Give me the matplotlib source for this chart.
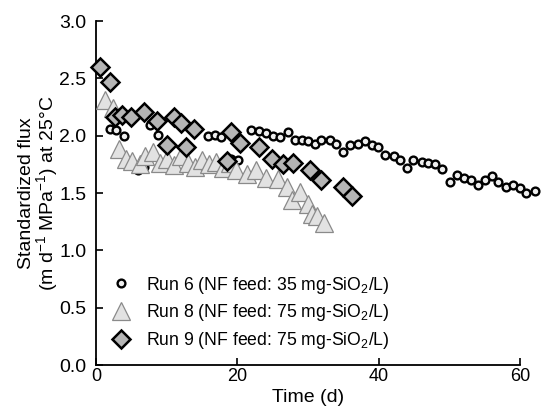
import matplotlib
matplotlib.use("Agg")
import matplotlib.pyplot as plt

plt.rcParams['font.family'] = ['Liberation Sans', 'DejaVu Sans']
plt.rcParams['mathtext.fontset'] = 'custom'
plt.rcParams['mathtext.rm'] = 'Liberation Sans'
plt.rcParams['mathtext.it'] = 'Liberation Sans:italic'
plt.rcParams['mathtext.bf'] = 'Liberation Sans:bold'

# Run 6 (circles)
t6 = [2.0, 2.9, 3.9, 6.0, 6.8, 7.7, 8.8, 10.0, 15.9, 16.8, 17.7, 19.1, 20.1,
      22.0, 23.0, 24.1, 25.1, 26.0, 27.2, 28.1, 29.1, 30.0, 31.0, 31.9, 33.1,
      34.0, 35.0, 35.9, 37.1, 38.0, 39.0, 39.9, 40.9, 42.1, 43.0, 44.0, 44.9,
      46.1, 47.0, 48.0, 48.9, 50.1, 51.1, 52.1, 53.0, 54.1, 55.0, 56.0, 56.9,
      58.0, 59.0, 60.0, 60.9, 62.1]
f6 = [2.06, 2.05, 2.00, 1.70, 1.73, 2.09, 2.01, 1.74, 2.00, 2.01, 1.99, 1.80, 1.79,
      2.05, 2.04, 2.02, 2.00, 1.99, 2.03, 1.96, 1.96, 1.95, 1.93, 1.96, 1.96,
      1.93, 1.86, 1.92, 1.93, 1.95, 1.92, 1.90, 1.83, 1.82, 1.79, 1.72, 1.79,
      1.77, 1.76, 1.75, 1.71, 1.60, 1.66, 1.63, 1.61, 1.57, 1.61, 1.65, 1.60,
      1.55, 1.57, 1.54, 1.50, 1.52]

# Run 8 (triangles)
t8 = [1.3, 2.4, 3.3, 4.2, 5.1, 6.2, 7.0, 8.1, 9.0, 10.0, 11.0, 12.0, 13.0, 14.0,
      15.0, 16.0, 17.0, 18.0, 19.0, 19.8, 21.3, 22.7, 24.1, 25.7, 27.0, 27.7,
      28.8, 30.0, 30.6, 31.3, 32.3]
f8 = [2.31, 2.24, 1.88, 1.80, 1.78, 1.75, 1.82, 1.86, 1.76, 1.80, 1.74, 1.82, 1.76,
      1.73, 1.79, 1.75, 1.77, 1.72, 1.76, 1.70, 1.67, 1.70, 1.63, 1.62, 1.55, 1.44,
      1.51, 1.40, 1.32, 1.30, 1.24]

# Run 9 (diamonds)
t9 = [0.6, 2.0, 2.7, 3.7, 4.9, 6.8, 8.7, 10.1, 11.0, 12.0, 12.8, 13.9, 18.6, 19.1,
      20.4, 23.0, 24.9, 26.5, 27.9, 30.3, 31.9, 35.0, 36.2]
f9 = [2.60, 2.47, 2.16, 2.18, 2.16, 2.21, 2.13, 1.92, 2.16, 2.11, 1.90, 2.06, 1.78,
      2.03, 1.94, 1.90, 1.80, 1.75, 1.76, 1.70, 1.61, 1.55, 1.47]

labels = ["Run 6 (NF feed: 35 mg-SiO$_2$/L)",
          "Run 8 (NF feed: 75 mg-SiO$_2$/L)",
          "Run 9 (NF feed: 75 mg-SiO$_2$/L)"]
xticks = [0, 20, 40, 60]
yticks = [0.0, 0.5, 1.0, 1.5, 2.0, 2.5, 3.0]

fig = plt.figure(figsize=(5.43, 4.12), dpi=100)
ax = fig.add_axes([96/543, 1-365/412, (520-96)/543, (365-21)/412])

ax.plot(t6, f6, linestyle='none', marker='o', ms=5.6, mfc='#eeeeee', mec='black',
        mew=1.7, label=labels[0], clip_on=False, zorder=3)
ax.plot(t8, f8, linestyle='none', marker='^', ms=12.5, mfc='#e2e2e2', mec='#8a8a8a',
        mew=0.9, label=labels[1], clip_on=False, zorder=4)
ax.plot(t9, f9, linestyle='none', marker='D', ms=9.0, mfc='#b5b5b5', mec='black',
        mew=1.8, label=labels[2], clip_on=False, zorder=5)

ax.set_xlim(0, 60)
ax.set_ylim(0, 3.0)
ax.set_xticks(xticks)
ax.set_yticks(yticks)
ax.set_yticklabels([f"{v:.1f}" for v in yticks])
ax.spines['top'].set_visible(False)
ax.spines['right'].set_visible(False)
for s in ('left', 'bottom'):
    ax.spines[s].set_linewidth(1.3)
ax.tick_params(axis='x', direction='in', length=5, width=1.2, labelsize=13, pad=2)
ax.tick_params(axis='y', direction='in', length=5, width=1.2, labelsize=14, pad=7)

ax.set_xlabel("Time (d)", fontsize=14, labelpad=3)
ax.set_ylabel("Standardized flux\n(m d$^{-1}$ MPa$^{-1}$) at 25\u00b0C",
              fontsize=14, linespacing=0.95)
ax.yaxis.set_label_coords(-0.086, 0.5)

leg = ax.legend(loc='lower left', bbox_to_anchor=(0.01, 0.02), frameon=False,
                fontsize=12.7, handletextpad=0.6, labelspacing=0.38,
                handlelength=1.6, numpoints=1, borderaxespad=0.0)

fig.savefig("out.png", dpi=100)
